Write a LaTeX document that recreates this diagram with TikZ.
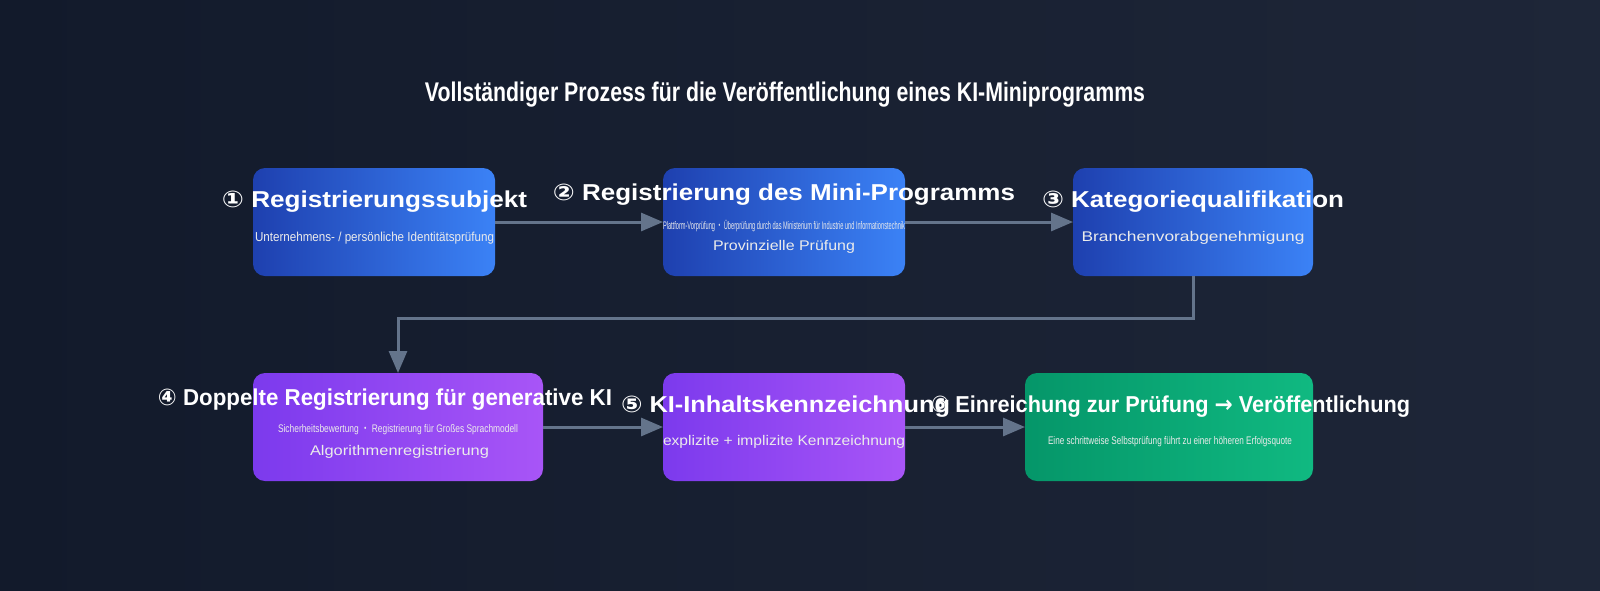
\documentclass[tikz,border=0pt]{standalone}
\usepackage{fontspec}
\setmainfont{Liberation Sans}
\newfontfamily\symf{DejaVu Sans}
\newfontfamily\cjkf{Noto Sans CJK JP}
\usetikzlibrary{arrows.meta}
\definecolor{bgA}{HTML}{121A2B}
\definecolor{bgB}{HTML}{1E2638}
\definecolor{arr}{HTML}{64748B}
\definecolor{bA}{HTML}{1E40AF}\definecolor{bB}{HTML}{3B82F6}
\definecolor{pA}{HTML}{7C3AED}\definecolor{pB}{HTML}{A855F7}
\definecolor{gA}{HTML}{059669}\definecolor{gB}{HTML}{10B981}
\newcommand{\fw}[2]{\resizebox{#1pt}{\height}{#2}}
\tikzset{
 ttl/.style={text=white,font=\fontsize{23}{25}\selectfont\bfseries,inner sep=0},
 sub/.style={text=white!92!black,font=\fontsize{13}{15}\selectfont,inner sep=0},
 con/.style={draw=arr,line width=3pt,-{Triangle[length=22pt,width=18pt]}}
}
\begin{document}
\begin{tikzpicture}[x=1pt,y=-1pt]
\useasboundingbox (0,0) rectangle (1600,590);
\shade[left color=bgA,right color=bgB] (0,0) rectangle (1600,590);
\node[text=white,font=\fontsize{27}{30}\selectfont\bfseries,inner sep=0] (title) at (785,95) {\fw{720}{Vollständiger Prozess für die Veröffentlichung eines KI-Miniprogramms}};
% boxes
\shade[left color=bA,right color=bB,rounded corners=12pt] (253,168) rectangle (495,276);
\shade[left color=bA,right color=bB,rounded corners=12pt] (663,168) rectangle (905,276);
\shade[left color=bA,right color=bB,rounded corners=12pt] (1073,168) rectangle (1313,276);
\shade[left color=pA,right color=pB,rounded corners=12pt] (253,373) rectangle (543,481);
\shade[left color=pA,right color=pB,rounded corners=12pt] (663,373) rectangle (905,481);
\shade[left color=gA,right color=gB,rounded corners=12pt] (1025,373) rectangle (1313,481);
\coordinate (b1r) at (495,222); \coordinate (b2l) at (663,222); \coordinate (b2r) at (905,222); \coordinate (b3l) at (1073,222);
\coordinate (b3b) at (1193,276); \coordinate (b4t) at (398,373);
\coordinate (b4r) at (543,427); \coordinate (b5l) at (663,427); \coordinate (b5r) at (905,427); \coordinate (b6l) at (1025,427);
% connectors
\draw[con] (b1r) -- (b2l);
\draw[con] (b2r) -- (b3l);
\draw[con] (b3b) |- (798,318) -| (b4t);
\draw[con] (b4r) -- (b5l);
\draw[con] (b5r) -- (b6l);
% texts
\node[ttl] (t1) at (374.5,202) {\fw{305}{{\symf ①} Registrierungssubjekt}};
\node[sub] (s1) at (374.5,238) {\fw{239}{Unternehmens- / persönliche Identitätsprüfung}};
\node[ttl] (t2) at (784,195) {\fw{462}{{\symf ②} Registrierung des Mini-Programms}};
\node[sub,font=\fontsize{11}{13}\selectfont] (s2a) at (784,226) {\fw{242}{Plattform-Vorprüfung {\cjkf ・} Überprüfung durch das Ministerium für Industrie und Informationstechnik}};
\node[sub,font=\fontsize{14}{16}\selectfont] (s2b) at (784,247) {\fw{142}{Provinzielle Prüfung}};
\node[ttl] (t3) at (1193,202) {\fw{302}{{\symf ③} Kategoriequalifikation}};
\node[sub,font=\fontsize{14}{16}\selectfont] (s3) at (1193,238) {\fw{223}{Branchenvorabgenehmigung}};
\node[ttl] (t4) at (385,400) {\fw{454}{{\symf ④} Doppelte Registrierung für generative KI}};
\node[sub,font=\fontsize{11}{13}\selectfont] (s4a) at (398,430) {\fw{240}{Sicherheitsbewertung {\cjkf ・} Registrierung für Großes Sprachmodell}};
\node[sub,font=\fontsize{14}{16}\selectfont] (s4b) at (399.5,452) {\fw{179}{Algorithmenregistrierung}};
\node[ttl] (t5) at (785.5,407) {\fw{329}{{\symf ⑤} KI-Inhaltskennzeichnung}};
\node[sub,font=\fontsize{14}{16}\selectfont] (s5) at (784,442) {\fw{242}{explizite + implizite Kennzeichnung}};
\node[ttl] (t6) at (1170.5,407) {\fw{479}{{\symf ⑥} Einreichung zur Prüfung {\symf →} Veröffentlichung}};
\node[sub,font=\fontsize{11}{13}\selectfont] (s6) at (1170,442) {\fw{244}{Eine schrittweise Selbstprüfung führt zu einer höheren Erfolgsquote}};
\end{tikzpicture}
\end{document}
